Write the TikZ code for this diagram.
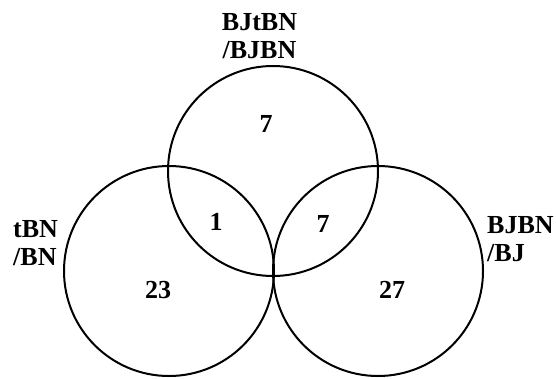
\documentclass[tikz,border=0pt]{standalone}
\usepackage{fontspec}
\setmainfont{Liberation Serif}
\tikzset{
  vset/.style={line width=2pt, draw=black},
  lbl/.style={inner sep=0pt, font=\bfseries\fontsize{26}{28.5}\selectfont},
  num/.style={inner sep=0pt, anchor=base, font=\bfseries\fontsize{26}{28}\selectfont}
}
\begin{document}
\begin{tikzpicture}[x=1pt,y=-1pt]
\useasboundingbox (0,0) rectangle (556,378);
\coordinate (cL) at (169,271);
\coordinate (cT) at (273,171);
\coordinate (cR) at (378,271);
\draw[vset] (cL) circle[radius=105];
\draw[vset] (cT) circle[radius=105];
\draw[vset] (cR) circle[radius=105];
\node[lbl, anchor=north, align=center] (lT) at (259.5,13) {BJtBN\\/BJBN};
\node[lbl, anchor=north west, align=left] (lL) at (13,220) {tBN\\/BN};
\node[lbl, anchor=north west, align=left] (lR) at (487,216) {BJBN\\/BJ};
\node[num] (nT) at (266,132) {7};
\node[num] (nLT) at (216,230) {1};
\node[num] (nRT) at (323,232) {7};
\node[num] (nL) at (158,298) {23};
\node[num] (nR) at (392,298) {27};
\end{tikzpicture}
\end{document}
